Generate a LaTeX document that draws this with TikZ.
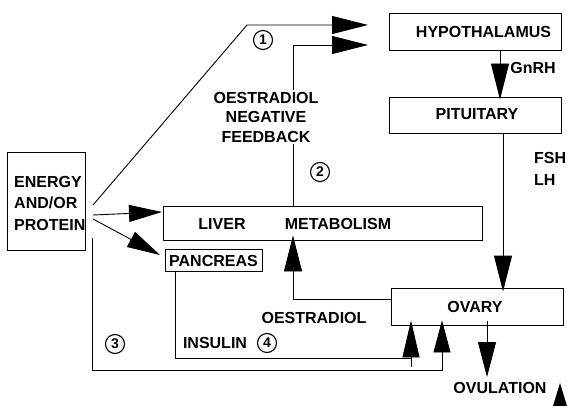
\documentclass[tikz,border=0pt]{standalone}
\usepackage{fontspec}
\setmainfont{Liberation Sans}
\usetikzlibrary{arrows.meta}
\begin{document}
\begin{tikzpicture}[x=1pt,y=-1pt,
  box/.style={draw, line width=0.9pt, inner sep=0pt},
  lbl/.style={font=\bfseries\fontsize{16}{18}\selectfont, inner sep=1pt},
  num/.style={draw, circle, line width=1.1pt, minimum size=19pt, inner sep=0pt, font=\bfseries\fontsize{14}{15}\selectfont},
  con/.style={line width=0.9pt},
  bigtri/.style={-{Triangle[length=36pt,width=18pt]}},
  midtri/.style={-{Triangle[length=33pt,width=17pt]}}
]
\useasboundingbox (0,0) rectangle (567,406);
% boxes
\node[box, minimum width=172pt, minimum height=37pt] (hyp) at (475,31.5) {};
\node[box, minimum width=172pt, minimum height=36pt] (pit) at (475,115) {};
\node[box, minimum width=172pt, minimum height=37pt] (ova) at (477,306.5) {};
\node[box, minimum width=319pt, minimum height=34pt] (liv) at (322.5,223) {};
\node[box, minimum width=97pt, minimum height=22pt] (pan) at (213.5,260) {};
\node[box, minimum width=78pt, minimum height=98pt] (ene) at (46,201) {};
% box texts
\node[lbl] (thyp) at (483.5,32) {HYPOTHALAMUS};
\node[lbl] (tpit) at (477,114) {PITUITARY};
\node[lbl] (tova) at (475,307) {OVARY};
\node[lbl] (tliv) at (222,224) {LIVER};
\node[lbl] (tmet) at (338,224) {METABOLISM};
\node[lbl] (tpan) at (213.5,261) {PANCREAS};
\node[lbl, anchor=west, align=left, font=\bfseries\fontsize{16}{21.5}\selectfont] (tene) at (13,203) {ENERGY\\AND/OR\\PROTEIN};
% coordinates
\coordinate (e1) at (93,205);
\coordinate (k1) at (247,25);
\coordinate (t1) at (368,25);
\coordinate (k2) at (293,45);
\coordinate (t2) at (368,45);
\coordinate (e2) at (93,215);
\coordinate (t3) at (162,212);
\coordinate (e3) at (93,219);
\coordinate (t4) at (160,255);
\coordinate (k5) at (293,299);
\coordinate (k6a) at (175,358);
\coordinate (k6b) at (411,358);
\coordinate (e7) at (92,238);
\coordinate (k7a) at (92,370);
\coordinate (k7b) at (442,370);
% connectors
\draw[con,bigtri] (e1) -- (k1) -- (t1);
\draw[con,bigtri] (liv.north -| k2) -- (k2) -- (t2);
\draw[con,midtri] (e2) -- (t3);
\draw[con,midtri] (e3) -- (t4);
\draw[con,bigtri] (hyp.south -| 500,0) -- ([yshift=-3pt]pit.north -| 500,0);
\draw[con,bigtri] (pit.south -| 503,0) -- ([yshift=-4pt]ova.north -| 503,0);
\draw[con,bigtri] (ova.west |- k5) -- (k5) -- ([yshift=5pt]liv.south -| k5);
\draw[con] (pan.south -| k6a) -- (k6a) -- (k6b);
\draw[con,-{Triangle[length=37pt,width=17pt]}] (411,367) -- ([yshift=5pt]ova.south -| k6b);
\draw[con] (e7) -- (k7a) -- (k7b) -- (442,362);
\draw[con,-{Triangle[length=32pt,width=17pt]}] (442,362) -- ([yshift=5pt]ova.south -| k7b);
\draw[con,-{Triangle[length=35pt,width=18pt]}] ([yshift=4pt]ova.south -| 487,0) -- (487,377);
% labels
\node[lbl, align=center, fill=white, font=\bfseries\fontsize{16}{19.5}\selectfont, inner sep=2pt] (tfb) at (266,117) {OESTRADIOL\\NEGATIVE\\FEEDBACK};
\node[lbl] (tgn) at (533,68) {GnRH};
\node[lbl, anchor=west] (tfsh) at (533,158) {FSH};
\node[lbl, anchor=west] (tlh) at (533,180) {LH};
\node[lbl] (toe) at (314,318) {OESTRADIOL};
\node[lbl] (tins) at (215,343) {INSULIN};
\node[lbl] (tovu) at (500,388) {OVULATION};
% numbers
\node[num] (n1) at (263,40) {1};
\node[num] (n2) at (320,172) {2};
\node[num] (n3) at (115,344) {3};
\node[num] (n4) at (267,343) {4};
% stray arrowhead at lower right
\fill (560,383) -- (553,406) -- (567,406) -- cycle;
\end{tikzpicture}
\end{document}
